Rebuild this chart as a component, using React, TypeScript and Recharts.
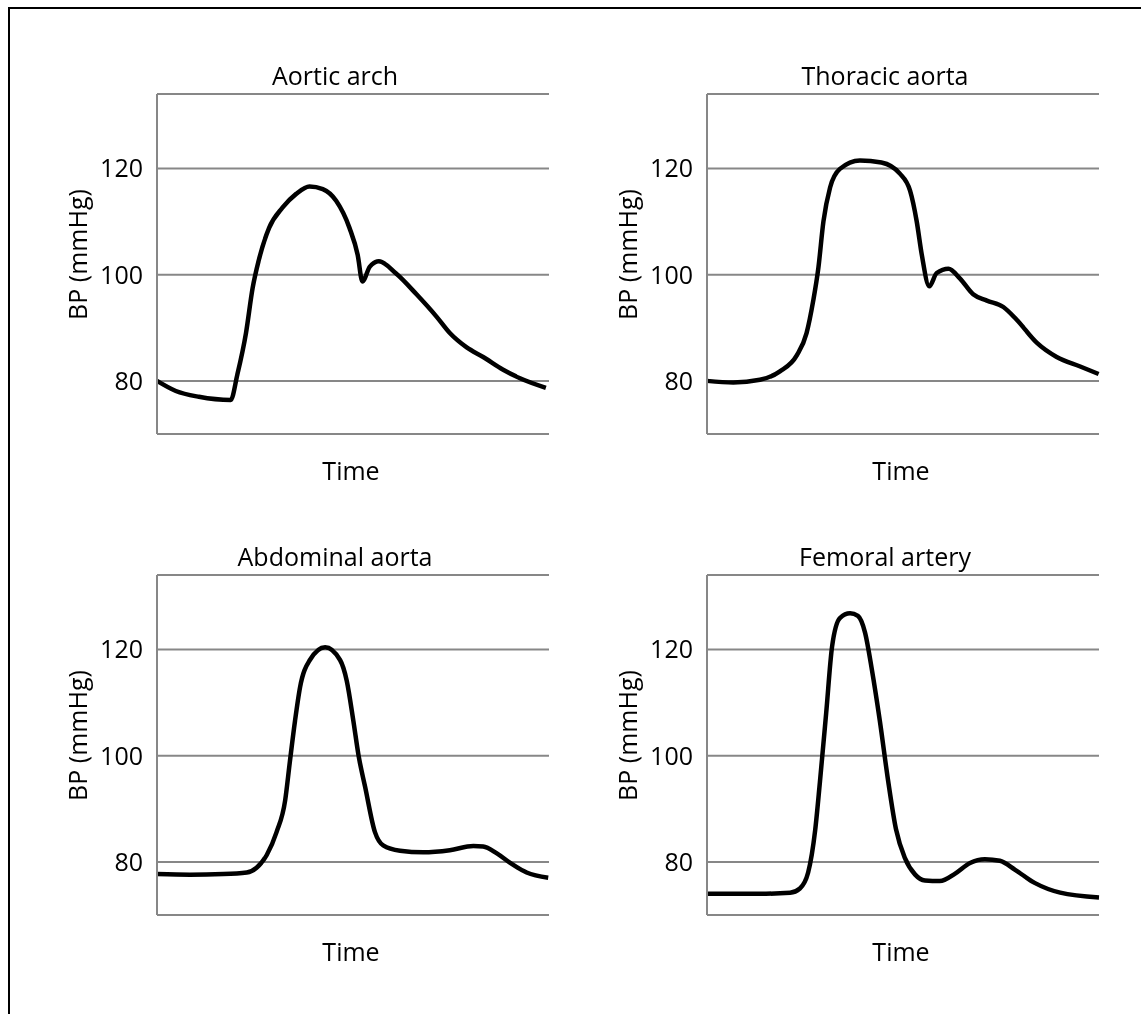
import { LineChart, Line, XAxis, YAxis, CartesianGrid } from "recharts";

// time is % of the cardiac cycle shown in each panel
const aorticArchT = [0, 4.8, 10.7, 18.8, 20.5, 22.7, 24.4, 26.1, 28.6, 32.0, 35.5, 38.9, 42.3, 45.7, 49.1, 51.2, 52.4, 54.3, 56.6, 61.0, 66.2, 71.3, 74.7, 79.0, 83.2, 88.3, 92.6, 99.2];
const aorticArchBP = [80, 78.1, 77.0, 76.4, 81.2, 89.0, 97.5, 103.1, 108.8, 112.6, 115.2, 116.6, 116.1, 113.9, 108.8, 103.7, 98.7, 101.5, 102.5, 100.2, 96.3, 92.1, 89.0, 86.3, 84.5, 82.1, 80.5, 78.7];

const thoracicT = [0, 6.7, 13.5, 18.6, 22.9, 25.4, 27.1, 28.4, 29.7, 31.4, 33.9, 39.0, 44.5, 49.2, 51.8, 53.5, 54.8, 56.7, 58.6, 61.6, 64.5, 67.9, 71.4, 75.6, 79.0, 84.1, 89.2, 95.2, 99.9];
const thoracicBP = [80, 79.7, 80.2, 81.8, 84.8, 89.0, 95.1, 101.2, 110.0, 116.4, 119.9, 121.5, 121.1, 119.0, 115.8, 110.0, 103.7, 97.8, 100.3, 101.1, 99.3, 96.3, 95.1, 93.9, 91.5, 87.2, 84.5, 82.7, 81.3];

const abdominalT = [0, 8.4, 16.9, 22.9, 25.4, 28.0, 30.5, 32.7, 33.9, 35.2, 36.5, 39.0, 42.9, 46.7, 48.4, 50.1, 51.4, 53.1, 55.6, 57.7, 62.0, 67.9, 74.7, 80.7, 83.2, 86.7, 90.1, 94.3, 99.8];
const abdominalBP = [77.7, 77.6, 77.7, 78.0, 78.9, 81.3, 85.6, 91.6, 98.9, 106.5, 112.9, 118.0, 120.4, 118.0, 114.1, 106.5, 100.1, 94.1, 85.6, 83.1, 82.1, 81.8, 82.2, 83.0, 82.9, 81.6, 79.8, 78.0, 77.0];

const femoralT = [0, 13.5, 21.2, 23.7, 25.8, 27.6, 28.8, 30.4, 31.9, 33.9, 36.5, 38.5, 40.3, 42.1, 44.1, 46.2, 48.2, 50.5, 53.1, 55.6, 59.4, 63.3, 67.1, 70.9, 74.7, 78.6, 83.7, 90.1, 100];
const femoralBP = [74.0, 74.0, 74.2, 75.0, 78.0, 86.0, 95.0, 108.0, 120.5, 125.9, 126.8, 126.3, 123.2, 116.0, 106.5, 95.3, 86.2, 80.7, 77.6, 76.5, 76.4, 77.8, 79.8, 80.5, 80.2, 78.5, 76.0, 74.2, 73.3];

const yTicks = [80, 100, 120];

const panels = [
  { title: "Aortic arch", t: aorticArchT, bp: aorticArchBP, x: 49, y: 51 },
  { title: "Thoracic aorta", t: thoracicT, bp: thoracicBP, x: 599, y: 51 },
  { title: "Abdominal aorta", t: abdominalT, bp: abdominalBP, x: 49, y: 532 },
  { title: "Femoral artery", t: femoralT, bp: femoralBP, x: 599, y: 532 },
];

const font = "'Open Sans', sans-serif";
const gray = "#878787";

function Panel({ title, t, bp, x, y }: any) {
  const data = t.map((v: number, i: number) => ({ t: v, bp: bp[i] }));
  return (
    <>
      <LineChart
        width={500}
        height={384}
        margin={{ top: 34, right: 10, bottom: 9, left: 0 }}
        style={{ position: "absolute", left: x, top: y }}
      >
        <CartesianGrid vertical={false} stroke={gray} strokeWidth={2} />
        <XAxis
          dataKey="t"
          type="number"
          domain={[0, 100]}
          tick={false}
          tickLine={false}
          height={1}
          axisLine={{ stroke: gray, strokeWidth: 2 }}
        />
        <YAxis
          type="number"
          domain={[70, 134]}
          ticks={yTicks}
          width={98}
          tickLine={false}
          tickSize={0}
          tickMargin={14}
          axisLine={{ stroke: gray, strokeWidth: 2 }}
          tick={{ fontSize: 25, fill: "#000", fontFamily: font }}
        />
        <Line
          data={data}
          dataKey="bp"
          type="monotone"
          stroke="#000"
          strokeWidth={4.5}
          dot={false}
          isAnimationActive={false}
        />
      </LineChart>
      <div style={{ position: "absolute", left: x + 176, top: y + 3, width: 200, textAlign: "center", fontSize: 25, lineHeight: "25px" }}>
        {title}
      </div>
      <div style={{ position: "absolute", left: x + 192, top: y + 398, width: 200, textAlign: "center", fontSize: 25, lineHeight: "25px" }}>
        Time
      </div>
      <div
        style={{
          position: "absolute",
          left: x - 82,
          top: y + 182,
          width: 200,
          textAlign: "center",
          fontSize: 25,
          lineHeight: "25px",
          transform: "rotate(-90deg)",
        }}
      >
        BP (mmHg)
      </div>
    </>
  );
}

export default function App() {
  return (
    <div
      style={{
        position: "fixed",
        left: 8,
        top: 7,
        right: 0,
        bottom: 0,
        borderLeft: "2px solid #000",
        borderTop: "2px solid #000",
        fontFamily: font,
        color: "#000",
        overflow: "hidden",
      }}
    >
      {panels.map((p) => (
        <Panel key={p.title} {...p} />
      ))}
    </div>
  );
}
